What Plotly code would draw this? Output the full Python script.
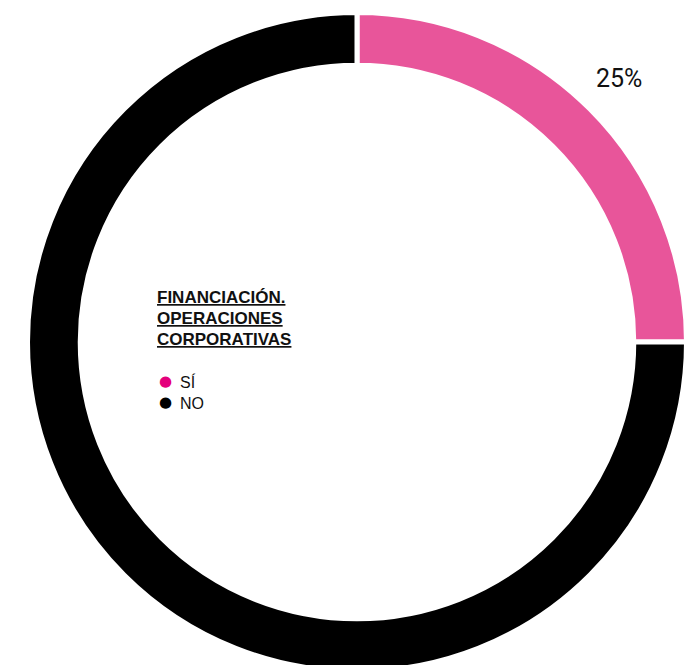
import plotly.graph_objects as go

# Data
labels = ["SÍ", "NO"]
values = [25, 75]
slice_colors = ["#E8559A", "#000000"]
legend_colors = ["#E4007C", "#000000"]
title_lines = ["FINANCIACIÓN.", "OPERACIONES", "CORPORATIVAS"]

W, H = 700, 684


def py(px):
    """Convert a pixel row (from top) to paper y."""
    return (H - px) / H


def px_x(px):
    return px / W


total = sum(values)
fig = go.Figure()
fig.add_trace(go.Pie(
    labels=labels,
    values=values,
    sort=False,
    direction="clockwise",
    rotation=0,
    hole=0.84,
    marker=dict(colors=slice_colors, line=dict(color="white", width=5)),
    textinfo="none",
    showlegend=False,
    hoverinfo="label+percent",
    domain=dict(x=[0.0393, 0.9807], y=[0.5 - 329.5 / H, 0.5 + 329.5 / H]),
))

annotations = []
# share label for the first slice
annotations.append(dict(
    text=f"{values[0] / total * 100:.0f}%",
    x=px_x(619), y=py(79), xref="paper", yref="paper",
    xanchor="center", yanchor="middle", showarrow=False,
    font=dict(family="Roboto", size=25, color="#111111"),
))
for i, line in enumerate(title_lines):
    annotations.append(dict(
        text=f"<b><u>{line}</u></b>",
        x=px_x(155), y=py(297 + 21 * i), xref="paper", yref="paper",
        xanchor="left", yanchor="middle", showarrow=False, align="left",
        font=dict(family="Liberation Sans", size=17, color="#111111"),
    ))
for i, (lab, col) in enumerate(zip(labels, legend_colors)):
    annotations.append(dict(
        text="●",
        x=px_x(165), y=py(381 + 21 * i), xref="paper", yref="paper",
        xanchor="center", yanchor="middle", showarrow=False,
        font=dict(family="DejaVu Sans", size=15, color=col),
    ))
    annotations.append(dict(
        text=lab,
        x=px_x(178), y=py(382 + 21 * i), xref="paper", yref="paper",
        xanchor="left", yanchor="middle", showarrow=False, align="left",
        font=dict(family="Liberation Sans", size=16, color="#111111"),
    ))

fig.update_layout(
    width=W, height=H, autosize=False,
    margin=dict(l=0, r=0, t=0, b=0),
    paper_bgcolor="white", plot_bgcolor="white",
    annotations=annotations,
)

fig.write_html("out.html", post_script="document.body.style.overflow='hidden';document.body.style.margin='0';")
